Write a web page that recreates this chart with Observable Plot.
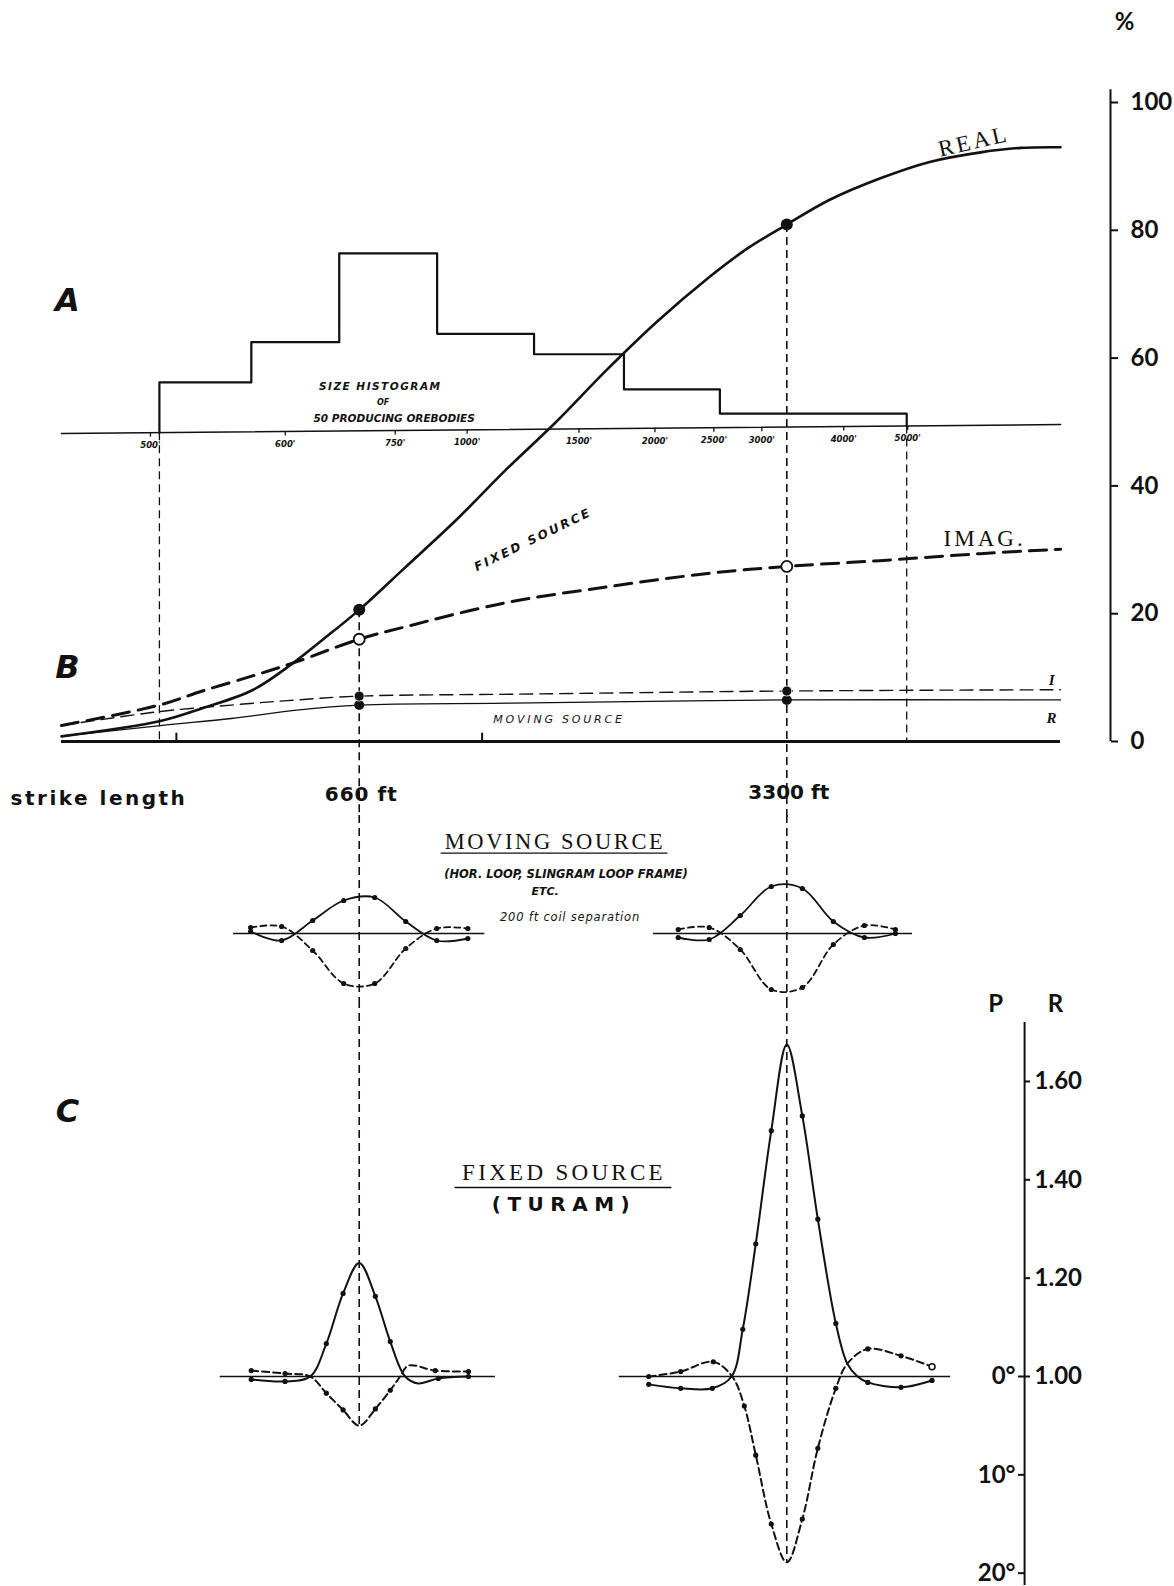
<!DOCTYPE html>
<html><head><meta charset="utf-8">
<script src="https://cdn.jsdelivr.net/npm/d3@7"></script>
<script src="https://cdn.jsdelivr.net/npm/@observablehq/plot@0.6"></script>
<style>
html,body{margin:0;padding:0;background:#fff;}
#fig{width:1174px;}
#fig svg{display:block;overflow:visible;}
</style></head><body><div id="fig"></div>
<script>
// ---------- DATA ----------
// horizontal position along the strike-length axis, in axis units (0 = left end of baseline, 100 = right end)
const col660 = 29.8, col3300 = 72.6;          // 660 ft and 3300 ft
const dash500 = 9.8, dash5000 = 84.6;          // 500' and 5000' limits of histogram
const baseTicks = [11.5, 42.1];

// Panel A/B : response in %
const realU   = [0, 9.9, 14.1, 19.2, 23.2, 26.2, 29.8, 34.3, 39.4, 44.4, 49.5, 54.6, 59.6, 64.7, 68.7, 72.6, 76.8, 81.9, 86.9, 92.0, 96.0, 100];
const realPct = [0.8, 3.2, 5.2, 8.1, 12.3, 16.0, 20.6, 27.1, 34.5, 42.4, 50.0, 58.2, 65.7, 72.5, 77.2, 80.9, 84.7, 88.1, 90.7, 92.2, 92.9, 93.0];
const imagU   = [0, 9.8, 14.1, 19.2, 23.2, 29.8, 34.3, 44.4, 54.6, 64.7, 72.6, 81.9, 92.0, 100];
const imagPct = [2.5, 5.7, 7.9, 10.3, 12.3, 16.0, 17.9, 21.7, 24.2, 26.3, 27.4, 28.3, 29.4, 30.1];
const movIU   = [0, 9.9, 17, 23.5, 29.8, 45, 72.6, 100];
const movIPct = [2.5, 4.7, 5.7, 6.5, 7.1, 7.4, 7.9, 8.1];
const movRU   = [0, 9.9, 17, 23.5, 29.8, 45, 72.6, 100];
const movRPct = [0.8, 2.5, 3.6, 4.9, 5.7, 6.0, 6.5, 6.5];

// size histogram of 50 producing orebodies
const histEdges = [9.8, 19.0, 27.8, 37.6, 47.3, 56.3, 65.9, 84.6];
const histTops  = [56.2, 62.5, 76.4, 63.8, 60.6, 55.1, 51.3];
const histBaseLeft = 48.2, histBaseRight = 49.6;   // baseline of the histogram at u = 0 and u = 100
const histTickLabels = ["500'", "600'", "750'", "1000'", "1500'", "2000'", "2500'", "3000'", "4000'", "5000'"];
const histTickU      = [8.9, 22.4, 33.4, 40.6, 51.8, 59.4, 65.3, 70.1, 78.3, 84.7];
const pctTicks = [0, 20, 40, 60, 80, 100];

// Moving source profiles (traverse distance in ft from centre, response in %)
const FT_PER_U = 32.2;
const mvStations = [-350, -250, -150, -50, 50, 150, 250, 350];
const mv660Solid  = [1, -3.5, 6.5, 16.5, 18, 6, -3.5, -2.5];
const mv660Dash   = [3, 3.5, -8.5, -25, -25, -7.5, 2.5, 2.5];
const mv3300Solid = [-2, -3, 9, 23.5, 22.5, 6, -2, 0];
const mv3300Dash  = [2, 3, -8, -28, -27, -5.5, 4, 2];
const mv660Span = [-405, 405], mv3300Span = [-430, 405];

// Fixed source (Turam) profiles: [ft, value, measured station?]  R = ratio, P = phase (deg)
const c660R = [[-348,0.994,1],[-239,0.990,1],[-158,1.0,0],[-106,1.067,1],[-52,1.169,1],[0,1.231,0],[52,1.163,1],[100,1.071,1],[148,1.0,0],[190,0.986,0],[255,0.996,1],[352,1.0,1]];
const c660P = [[-348,-0.6,1],[-239,-0.3,1],[-158,0,0],[-106,1.7,1],[-52,3.4,1],[0,5.0,0],[52,3.3,1],[100,1.4,1],[132,0,0],[158,-1.1,0],[245,-0.6,1],[352,-0.5,1]];
const c3300R = [[-445,0.984,1],[-342,0.976,1],[-240,0.976,1],[-178,1.0,0],[-142,1.096,1],[-100,1.27,1],[-50,1.50,1],[0,1.675,0],[50,1.53,1],[100,1.32,1],[158,1.108,1],[195,1.026,0],[228,1.0,0],[261,0.988,1],[368,0.978,1],[468,0.992,1]];
const c3300P = [[-445,0,1],[-342,-0.5,1],[-237,-1.5,1],[-176,0,0],[-137,3.0,1],[-100,8.0,1],[-50,15.0,1],[0,18.9,0],[50,14.5,1],[100,7.3,1],[158,1.2,1],[195,-1.3,0],[261,-2.8,1],[368,-2.1,1],[468,-1.0,2]];
const c660Span = [-448, 439], c3300Span = [-540, 528];
const rTicks = [1.0, 1.2, 1.4, 1.6];
const rTickLabels = ["1.00", "1.20", "1.40", "1.60"];
const pTicks = [0, 10, 20];
const pTickLabels = ["0°", "10°", "20°"];
const DEG_TO_R = 0.02;   // 10° of phase drawn as 0.20 of ratio

// ---------- DRAWING ----------
const INK = "#111";
const fSans = "'DejaVu Sans', sans-serif";
const fAxis = "Lato, 'DejaVu Sans', sans-serif";
const fSerif = "'Liberation Serif', 'DejaVu Serif', serif";
const xOpt = {domain: [0, 105], axis: null};
const M = {marginLeft: 61, marginRight: 64};
const vDash = {stroke: INK, strokeWidth: 1.6, strokeDasharray: "8,5"};
const zip = (xs, ys) => xs.map((x, i) => ({x, y: ys[i]}));
const prof = (c, xs, ys) => xs.map((f, i) => ({x: c + f / FT_PER_U, y: ys[i]}));
const tri = (c, arr, conv) => arr.map(([f, v, d]) => ({x: c + f / FT_PER_U, y: conv(v), dot: d}));
const pToR = p => 1 - p * DEG_TO_R;
const idR = v => v;
const histBase = u => histBaseLeft + (histBaseRight - histBaseLeft) * u / 100;
function spacing(svg, map) {
  d3.select(svg).selectAll("text").each(function () {
    const t = this.textContent;
    if (map[t] != null) this.setAttribute("letter-spacing", map[t]);
  });
}
const T = (x, y, text, o) => Plot.text([{x, y, text}], Object.assign({x: "x", y: "y", text: "text", fill: INK}, o));

// ===== SVG 1 : panels A and B =====
const histOutline = [[histEdges[0], histBase(histEdges[0])]];
histTops.forEach((t, i) => histOutline.push([histEdges[i], t], [histEdges[i + 1], t]));
histOutline.push([histEdges[histEdges.length - 1], histBase(histEdges[histEdges.length - 1])]);

const svg1 = Plot.plot({
  width: 1174, height: 815, ...M, marginTop: 102, marginBottom: 74,
  x: xOpt, y: {domain: [0, 100]},
  style: {fontFamily: fAxis, fontSize: "24px", color: INK, background: "white", overflow: "visible"},
  marks: [
    Plot.ruleY([0], {x1: 0, x2: 100, stroke: INK, strokeWidth: 2.8}),
    Plot.ruleX(baseTicks, {y1: 0, y2: 1.3, stroke: INK, strokeWidth: 2}),
    Plot.line([0, 100], {x: d => d, y: d => histBase(d), stroke: INK, strokeWidth: 1.6}),
    Plot.line(histOutline, {x: d => d[0], y: d => d[1], stroke: INK, strokeWidth: 2.2}),
    Plot.ruleX(histTickU, {y1: d => histBase(d), y2: d => histBase(d) - 0.7, stroke: INK, strokeWidth: 1.3}),
    Plot.text(histTickLabels, {x: (d, i) => histTickU[i], y: (d, i) => histBase(histTickU[i]) - 2.0, text: d => d, fontSize: 8.5, fontStyle: "italic", fontWeight: "bold", fontFamily: fSans, fill: INK}),
    T(31.9, 55.6, "SIZE HISTOGRAM", {fontSize: 10.5, fontStyle: "italic", fontWeight: "bold", fontFamily: fSans}),
    T(32.2, 53.1, "OF", {fontSize: 8, fontStyle: "italic", fontWeight: "bold", fontFamily: fSans}),
    T(33.3, 50.6, "50 PRODUCING OREBODIES", {fontSize: 10.5, fontStyle: "italic", fontWeight: "bold", fontFamily: fSans}),
    Plot.ruleX([dash500, dash5000], {y1: d => histBase(d), y2: 0, ...vDash, strokeWidth: 1.3}),
    Plot.ruleX([col660], {y1: realPct[realU.indexOf(col660)], y2: -12, ...vDash}),
    Plot.ruleX([col3300], {y1: realPct[realU.indexOf(col3300)], y2: -12, ...vDash}),
    Plot.line(zip(movRU, movRPct), {x: "x", y: "y", curve: "catmull-rom", stroke: INK, strokeWidth: 1.3}),
    Plot.line(zip(movIU, movIPct), {x: "x", y: "y", curve: "catmull-rom", stroke: INK, strokeWidth: 1.4, strokeDasharray: "13,7"}),
    Plot.line(zip(imagU, imagPct), {x: "x", y: "y", curve: "catmull-rom", stroke: INK, strokeWidth: 3, strokeDasharray: "17,9"}),
    Plot.line(zip(realU, realPct), {x: "x", y: "y", curve: "catmull-rom", stroke: INK, strokeWidth: 2.6}),
    Plot.dot([col660, col3300], {x: d => d, y: d => movRPct[movRU.indexOf(d)], r: 5, fill: INK}),
    Plot.dot([col660, col3300], {x: d => d, y: d => movIPct[movIU.indexOf(d)], r: 5, fill: INK, stroke: "white", strokeWidth: 0.8}),
    Plot.dot([col660, col3300], {x: d => d, y: d => imagPct[imagU.indexOf(d)], r: 5.5, fill: "white", stroke: INK, strokeWidth: 1.8}),
    Plot.dot([col660, col3300], {x: d => d, y: d => realPct[realU.indexOf(d)], r: 6, fill: INK}),
    Plot.ruleX([105], {y1: 0, y2: 102, stroke: INK, strokeWidth: 2}),
    Plot.axisY({anchor: "right", ticks: pctTicks, label: null, tickSize: 7, tickPadding: 13, strokeWidth: 2, fontWeight: "bold", tickFormat: d => String(d)}),
    T(106.4, 112.5, "%", {fontSize: 24, fontWeight: "bold", fontFamily: fAxis}),
    T(0.6, 68.9, "A", {fontSize: 32, fontStyle: "italic", fontWeight: "bold", fontFamily: fSans}),
    T(0.6, 11.6, "B", {fontSize: 32, fontStyle: "italic", fontWeight: "bold", fontFamily: fSans}),
    T(-5.1, -8.9, "strike length", {textAnchor: "start", fontSize: 20, fontWeight: "bold", fontFamily: fSans}),
    T(30.0, -8.3, "660 ft", {fontSize: 20, fontWeight: "bold", fontFamily: fSans}),
    T(72.8, -8.0, "3300 ft", {fontSize: 20, fontWeight: "bold", fontFamily: fSans}),
    T(91.3, 93.9, "REAL", {fontSize: 23, fontFamily: fSerif, rotate: -13}),
    T(92.4, 31.7, "IMAG.", {fontSize: 23, fontFamily: fSerif}),
    T(47.2, 31.6, "FIXED SOURCE", {fontSize: 12, fontStyle: "italic", fontWeight: "bold", fontFamily: fSans, rotate: -26}),
    T(49.8, 3.4, "MOVING SOURCE", {fontSize: 11, fontStyle: "italic", fontFamily: fSans}),
    T(99.1, 9.6, "I", {fontSize: 15, fontStyle: "italic", fontWeight: "bold", fontFamily: fSerif}),
    T(99.1, 3.6, "R", {fontSize: 15, fontStyle: "italic", fontWeight: "bold", fontFamily: fSerif})
  ]
});
spacing(svg1, {"REAL": 3, "IMAG.": 3, "FIXED SOURCE": 2.5, "MOVING SOURCE": 2.8, "SIZE HISTOGRAM": 1.5, "strike length": 2.5, "660 ft": 1});

// ===== SVG 2 : moving source profiles =====
const m1s = prof(col660, mvStations, mv660Solid), m1d = prof(col660, mvStations, mv660Dash);
const m2s = prof(col3300, mvStations, mv3300Solid), m2d = prof(col3300, mvStations, mv3300Dash);
const svg2 = Plot.plot({
  width: 1174, height: 185, ...M, marginTop: 0, marginBottom: 0,
  x: xOpt, y: {domain: [-33.5, 59], axis: null},
  style: {color: INK, background: "white", overflow: "visible"},
  marks: [
    Plot.ruleX([col660, col3300], vDash),
    Plot.ruleY([0], {x1: col660 + mv660Span[0] / FT_PER_U, x2: col660 + mv660Span[1] / FT_PER_U, stroke: INK, strokeWidth: 1.4}),
    Plot.ruleY([0], {x1: col3300 + mv3300Span[0] / FT_PER_U, x2: col3300 + mv3300Span[1] / FT_PER_U, stroke: INK, strokeWidth: 1.4}),
    ...[m1s, m2s].map(d => Plot.line(d, {x: "x", y: "y", curve: "catmull-rom", stroke: INK, strokeWidth: 1.8})),
    ...[m1d, m2d].map(d => Plot.line(d, {x: "x", y: "y", curve: "catmull-rom", stroke: INK, strokeWidth: 1.8, strokeDasharray: "6,4"})),
    ...[m1s, m1d, m2s, m2d].map(d => Plot.dot(d, {x: "x", y: "y", r: 2.6, fill: INK})),
    T(49.4, 46, "MOVING SOURCE", {fontSize: 22.5, fontFamily: fSerif}),
    Plot.ruleY([40.2], {x1: 38.0, x2: 60.7, stroke: INK, strokeWidth: 1.4}),
    T(50.5, 29.5, "(HOR. LOOP, SLINGRAM LOOP FRAME)", {fontSize: 11.5, fontStyle: "italic", fontWeight: "bold", fontFamily: fSans}),
    T(48.4, 21, "ETC.", {fontSize: 11, fontStyle: "italic", fontWeight: "bold", fontFamily: fSans}),
    T(50.9, 8, "200 ft coil separation", {fontSize: 11.5, fontStyle: "italic", fontFamily: fSans})
  ]
});
spacing(svg2, {"MOVING SOURCE": 2.6, "200 ft coil separation": 0.8});

// ===== SVG 3 : fixed source (Turam) =====
const c1r = tri(col660, c660R, idR), c1p = tri(col660, c660P, pToR);
const c2r = tri(col3300, c3300R, idR), c2p = tri(col3300, c3300P, pToR);
const axU = 96.4;
const allC = [c1r, c1p, c2r, c2p];
const svg3 = Plot.plot({
  width: 1174, height: 586, ...M, marginTop: 0, marginBottom: 0,
  x: xOpt, y: {domain: [0.57291, 1.76469], axis: null},
  style: {color: INK, background: "white", overflow: "visible"},
  marks: [
    Plot.ruleX([col660], {y1: 1.76469, y2: pToR(c660P[5][1]), ...vDash}),
    Plot.ruleX([col3300], {y1: 1.76469, y2: pToR(c3300P[7][1]), ...vDash}),
    Plot.ruleY([1], {x1: col660 + c660Span[0] / FT_PER_U, x2: col660 + c660Span[1] / FT_PER_U, stroke: INK, strokeWidth: 1.5}),
    Plot.ruleY([1], {x1: col3300 + c3300Span[0] / FT_PER_U, x2: col3300 + c3300Span[1] / FT_PER_U, stroke: INK, strokeWidth: 1.5}),
    ...[c1r, c2r].map(d => Plot.line(d, {x: "x", y: "y", curve: "catmull-rom", stroke: INK, strokeWidth: 2})),
    ...[c1p, c2p].map(d => Plot.line(d, {x: "x", y: "y", curve: "catmull-rom", stroke: INK, strokeWidth: 2, strokeDasharray: "7,4"})),
    ...allC.map(d => Plot.dot(d.filter(p => p.dot === 1), {x: "x", y: "y", r: 2.6, fill: INK})),
    ...allC.map(d => Plot.dot(d.filter(p => p.dot === 2), {x: "x", y: "y", r: 3, fill: "white", stroke: INK, strokeWidth: 1.5})),
    Plot.ruleX([axU], {y1: 1.72, y2: 0.575, stroke: INK, strokeWidth: 2}),
    Plot.ruleY(rTicks, {x1: axU, x2: axU + 0.6, stroke: INK, strokeWidth: 2}),
    Plot.ruleY(pTicks.map(pToR), {x1: axU - 0.6, x2: axU, stroke: INK, strokeWidth: 2}),
    Plot.text(rTickLabels, {x: axU + 1.0, y: (d, i) => rTicks[i], text: d => d, textAnchor: "start", fontSize: 24, fontWeight: "bold", fontFamily: fAxis, fill: INK}),
    Plot.text(pTickLabels, {x: axU - 0.9, y: (d, i) => pToR(pTicks[i]), text: d => d, textAnchor: "end", fontSize: 24, fontWeight: "bold", fontFamily: fAxis, fill: INK}),
    T(93.5, 1.757, "P", {fontSize: 24, fontWeight: "bold", fontFamily: fAxis}),
    T(99.5, 1.757, "R", {fontSize: 24, fontWeight: "bold", fontFamily: fAxis}),
    T(0.6, 1.539, "C", {fontSize: 32, fontStyle: "italic", fontWeight: "bold", fontFamily: fSans}),
    T(50.3, 1.415, "FIXED SOURCE", {fontSize: 23, fontFamily: fSerif}),
    Plot.ruleY([1.3844], {x1: 39.4, x2: 61.1, stroke: INK, strokeWidth: 1.4}),
    T(50.3, 1.350, "(TURAM)", {fontSize: 20, fontWeight: "bold", fontFamily: fSans})
  ]
});
spacing(svg3, {"FIXED SOURCE": 3.3, "(TURAM)": 6.5});

const fig = document.getElementById("fig");
fig.append(svg1, svg2, svg3);
</script></body></html>
